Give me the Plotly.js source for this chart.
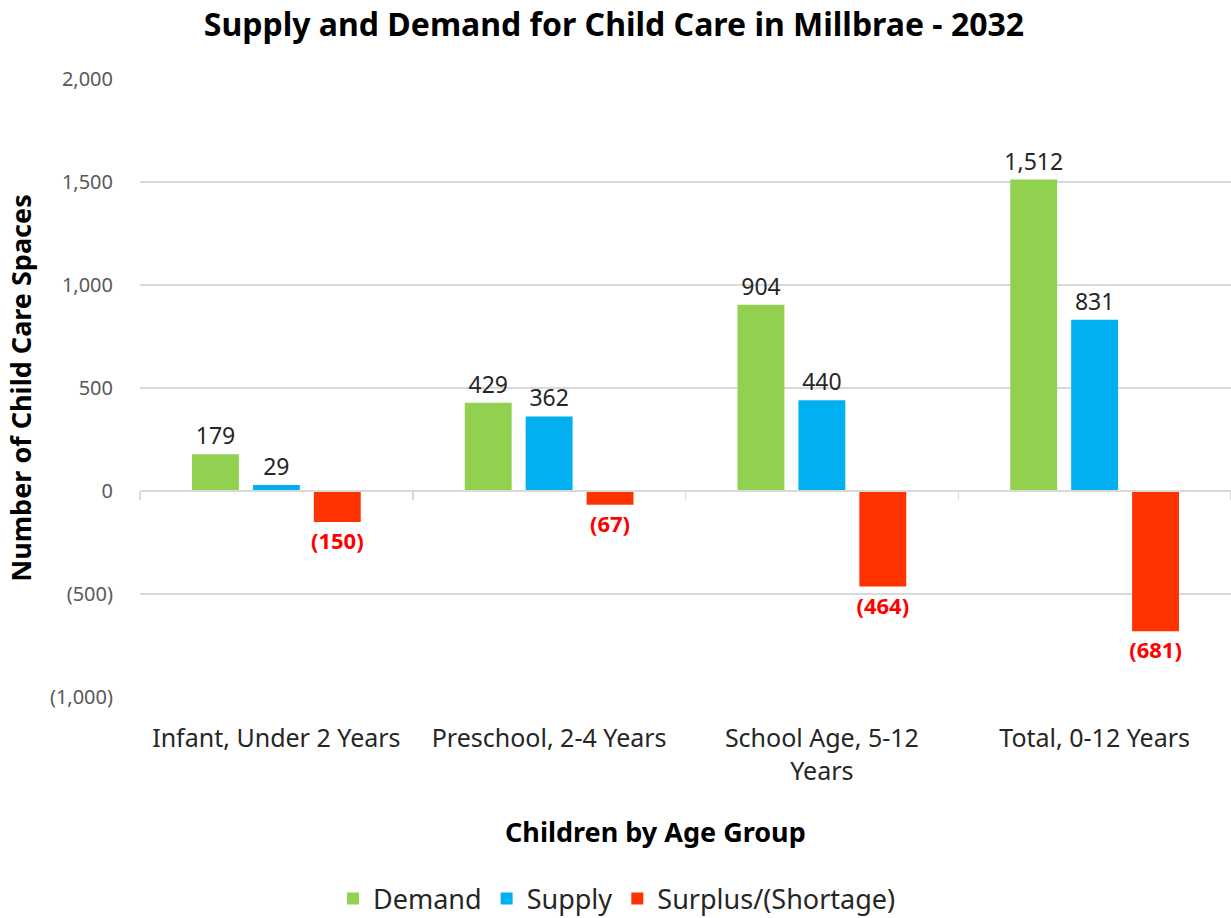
<!DOCTYPE html>
<html>
<head>
<meta charset="utf-8">
<script src="https://cdn.plot.ly/plotly-3.0.1.min.js"></script>
<style>html,body{margin:0;padding:0;background:#fff;}#chart{width:1231px;height:918px;}</style>
</head>
<body>
<div id="chart"></div>
<script>
const categories = ["Infant, Under 2 Years", "Preschool, 2-4 Years", "School Age, 5-12 Years", "Total, 0-12 Years"];
const categoryLabels = ["Infant, Under 2 Years", "Preschool, 2-4 Years", "School Age, 5-12<br>Years", "Total, 0-12 Years"];
const demand = [179, 429, 904, 1512];
const supply = [29, 362, 440, 831];
const surplus = [-150, -67, -464, -681];
const yTickVals = [-1000, -500, 0, 500, 1000, 1500, 2000];

const FONT = "Noto Sans, DejaVu Sans, sans-serif";
function fmt(v) {
  const s = Math.abs(v).toLocaleString("en-US");
  return v < 0 ? "(" + s + ")" : s;
}

const common = {type: "bar", x: categories, textposition: "outside", constraintext: "none",
  cliponaxis: false, hoverinfo: "x+y"};
const traces = [
  Object.assign({}, common, {name: "Demand", y: demand, text: demand.map(fmt),
    marker: {color: "#92D050"}, textfont: {family: FONT, size: 23, color: "#262626"}}),
  Object.assign({}, common, {name: "Supply", y: supply, text: supply.map(fmt),
    marker: {color: "#00B0F0"}, textfont: {family: FONT, size: 23, color: "#262626"}}),
  Object.assign({}, common, {name: "Surplus/(Shortage)", y: surplus, text: surplus.map(fmt),
    marker: {color: "#FF3300"}, textfont: {family: FONT, size: 22, color: "#FF0000", weight: "bold"}}),
  {type: "scatter", mode: "markers", x: categories, y: categories.map(() => 0), xaxis: "x2",
   marker: {opacity: 0}, showlegend: false, hoverinfo: "skip"}
];

const layout = {
  width: 1231, height: 918,
  margin: {l: 140, r: 0, t: 79, b: 221},
  paper_bgcolor: "#fff", plot_bgcolor: "#fff",
  font: {family: FONT, color: "#262626"},
  barmode: "group", bargap: 0.33, bargroupgap: 0.23,
  title: {text: "<b>Supply and Demand for Child Care in Millbrae - 2032</b>",
    font: {family: FONT, size: 32, color: "#000"}, x: 614/1231, xref: "container", y: 1 - 25/918, yref: "container", yanchor: "middle"},
  xaxis: {type: "category", categoryarray: categories, tickvals: categories, ticktext: categoryLabels,
    showgrid: false, zeroline: false, showline: false,
    ticks: "outside", ticklen: 19, tickcolor: "rgba(0,0,0,0)",
    tickfont: {family: FONT, size: 25, color: "#262626"}},
  xaxis2: {type: "category", categoryarray: categories, overlaying: "x", anchor: "free", position: 1/3,
    matches: "x", showline: true, linecolor: "#D9D9D9", linewidth: 2,
    ticks: "outside", tickson: "boundaries", ticklen: 8, tickcolor: "#D9D9D9", tickwidth: 1.5,
    showticklabels: false, showgrid: false, zeroline: false},
  yaxis: {range: [-1000, 2000], tickvals: yTickVals, ticktext: yTickVals.map(fmt),
    showgrid: true, gridcolor: "#D9D9D9", gridwidth: 1.5, zeroline: false, showline: false,
    ticks: "outside", ticklen: 22, tickcolor: "rgba(0,0,0,0)",
    tickfont: {family: FONT, size: 20, color: "#595959"},
    title: {text: "<b>Number of Child Care Spaces</b>", font: {family: FONT, size: 27, color: "#000"}, standoff: 10}},
  annotations: [{text: "<b>Children by Age Group</b>", xref: "paper", yref: "paper",
    x: (655 - 140) / 1091, y: (697 - 831) / 618, xanchor: "center", yanchor: "middle", showarrow: false,
    font: {family: FONT, size: 27, color: "#000"}}],
  legend: {orientation: "h", xref: "container", yref: "container", x: 617/1231, y: 1 - 899/918,
    xanchor: "center", yanchor: "middle", font: {family: FONT, size: 27, color: "#262626"},
    itemwidth: 30, traceorder: "normal"},
  showlegend: true
};

Plotly.newPlot("chart", traces, layout, {displayModeBar: false, staticPlot: true});
</script>
</body>
</html>
